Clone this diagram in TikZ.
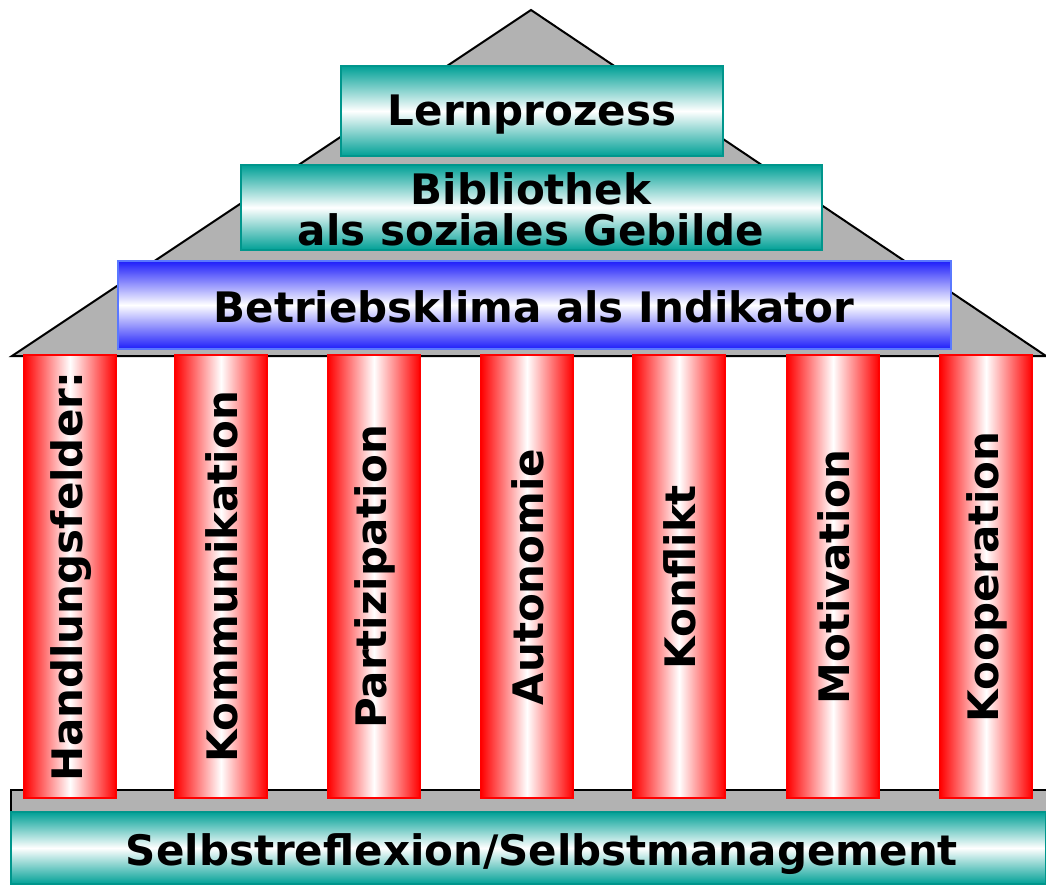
\documentclass[tikz,border=0pt]{standalone}
\usepackage{fontspec}
\setmainfont{DejaVu Sans}
\definecolor{tealc}{RGB}{0,160,150}
\definecolor{tealb}{RGB}{0,150,140}
\definecolor{bluec}{RGB}{30,30,250}
\definecolor{blueb}{RGB}{90,120,255}
\definecolor{roofgray}{RGB}{178,178,178}
\tikzset{
  txt/.style={font=\bfseries\fontsize{42}{41}\selectfont, text=black, align=center, inner sep=0pt},
  tealbox/.style={draw=tealb, line width=1.5pt, top color=tealc, bottom color=tealc, middle color=white},
  bluebox/.style={draw=blueb, line width=1.5pt, top color=bluec, bottom color=bluec, middle color=white},
  pillar/.style={draw=red, line width=2.5pt, left color=red, right color=red, middle color=white},
  grayshape/.style={fill=roofgray, draw=black, line width=2pt},
}
\begin{document}
\begin{tikzpicture}[x=1pt,y=-1pt]
\useasboundingbox (0,0) rectangle (1046,885);
% roof
\draw[grayshape, line join=miter] (12,356) -- (531,10) -- (1046,356) -- cycle;
% top boxes
\path[tealbox] (341,66) rectangle (723,156);
\node[txt] (lern) at (532,115) {Lernprozess};
\path[tealbox] (241,165) rectangle (822,250);
\node[txt] (bib) at (531,209) {Bibliothek\\als soziales Gebilde};
\path[bluebox] (118,261) rectangle (951,349);
\node[txt] (betr) at (534,307) {Betriebsklima als Indikator};
% base
\path[fill=roofgray] (11,790) rectangle (1046,812);
\draw[black, line width=2pt] (11,812) -- (11,790) -- (1046,790);
\path[tealbox] (11,812) rectangle (1046,884);
\node[txt] (base) at (542,854) {Selbstreflexion/Selbstmanagement};
% pillars
\foreach \x/\t/\n in {24/Handlungsfelder:/p1, 175/Kommunikation/p2, 328/Partizipation/p3, 481/Autonomie/p4, 633/Konflikt/p5, 787/Motivation/p6, 940/Kooperation/p7}{
  \path[pillar] (\x,355) rectangle (\x+92,798);
  \node[txt, rotate=90] (\n) at (\x+47,577) {\t};
}
\end{tikzpicture}
\end{document}
